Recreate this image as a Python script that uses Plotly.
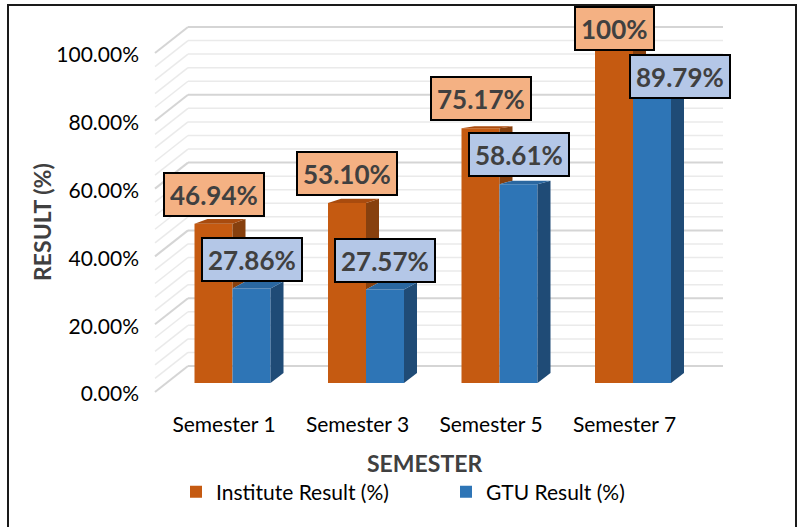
import plotly.graph_objects as go

# ---------------- data ----------------
categories = ["Semester 1", "Semester 3", "Semester 5", "Semester 7"]
institute_result = [46.94, 53.10, 75.17, 100.0]
gtu_result = [27.86, 27.57, 58.61, 89.79]
institute_labels = ["46.94%", "53.10%", "75.17%", "100%"]
gtu_labels = ["27.86%", "27.57%", "58.61%", "89.79%"]
y_tick_values = [0, 20, 40, 60, 80, 100]
y_tick_labels = ["0.00%", "20.00%", "40.00%", "60.00%", "80.00%", "100.00%"]
series_names = ["Institute Result (%)", "GTU Result (%)"]

# ---------------- styling / geometry ----------------
FONT = "Lato"
ORANGE, ORANGE_TOP, ORANGE_SIDE = "#C55A11", "#A94B0E", "#87400E"
BLUE, BLUE_TOP, BLUE_SIDE = "#2E75B6", "#2A67A0", "#1F4B76"
ORANGE_LABEL, BLUE_LABEL = "#F4B183", "#B4C7E7"
TEXT_DARK = "#404040"

FIG_W, FIG_H = 800, 527
M_L, M_R, M_T, M_B = 140, 40, 0, 117
PLOT_W = FIG_W - M_L - M_R
PLOT_H = FIG_H - M_T - M_B

CAT_PX = 133.5     # pixel spacing of categories
CAT0_PX = 232.5    # pixel x of first category centre
PCT_PX = 3.39      # pixels per percentage point
BASE_PX = 383      # pixel y of 0 % (front plane)


def px_x(p):
    return (p - CAT0_PX) / CAT_PX


def len_x(p):
    return p / CAT_PX


def len_y(p):
    return p / PCT_PX


def paper_x(p):
    return (p - M_L) / PLOT_W


def paper_y(p):
    return (M_T + PLOT_H - p) / PLOT_H


x_range = [px_x(M_L), px_x(M_L + PLOT_W)]
y_range = [(BASE_PX - (M_T + PLOT_H)) / PCT_PX, (BASE_PX - M_T) / PCT_PX]

BAR_W = len_x(38)
DEPTH_X = len_x(13)
BOTTOM_RISE = len_y(10)
PERSP = 0.032


def back(v):
    return v * (1 - PERSP) + BOTTOM_RISE


def poly(pts):
    return "M " + " L ".join(f"{x:.5f},{y:.5f}" for x, y in pts) + " Z"


positions = list(range(len(categories)))
inst_x = [p - BAR_W / 2 for p in positions]
gtu_x = [p + BAR_W / 2 for p in positions]

fig = go.Figure()
fig.add_trace(go.Bar(x=inst_x, y=institute_result, width=BAR_W, name=series_names[0],
                     marker=dict(color=ORANGE, line=dict(width=0)), hoverinfo="skip"))
fig.add_trace(go.Bar(x=gtu_x, y=gtu_result, width=BAR_W, name=series_names[1],
                     marker=dict(color=BLUE, line=dict(width=0)), hoverinfo="skip"))

shapes = []

# back wall + side wall gridlines
WALL_SHIFT = len_y(17)
SIDE_DROP = len_y(26)
wall_left, wall_right, side_left = px_x(188), px_x(723), px_x(155)
for g in range(0, 101, 4):
    major = g % 20 == 0
    col = "#D5D5D5" if major else "#EAEAEA"
    w = 2 if major else 1.5
    yb = g + WALL_SHIFT
    shapes.append(dict(type="line", xref="x", yref="y", x0=wall_left, x1=wall_right,
                       y0=yb, y1=yb, line=dict(color=col, width=w), layer="below"))
    shapes.append(dict(type="line", xref="x", yref="y", x0=side_left, x1=wall_left,
                       y0=yb - SIDE_DROP, y1=yb, line=dict(color=col, width=w), layer="below"))

# 3-D faces of the columns
for i in positions:
    o, b = institute_result[i], gtu_result[i]
    ol, orr = inst_x[i] - BAR_W / 2, inst_x[i] + BAR_W / 2
    bl, br = gtu_x[i] - BAR_W / 2, gtu_x[i] + BAR_W / 2
    sb = max(0, min(o, b))
    faces = [
        ([(orr, o), (orr + DEPTH_X, back(o)), (orr + DEPTH_X, back(sb)), (orr, sb)], ORANGE_SIDE),
        ([(ol, o), (orr, o), (orr + DEPTH_X, back(o)), (ol + DEPTH_X, back(o))], ORANGE_TOP),
        ([(br, b), (br + DEPTH_X, back(b)), (br + DEPTH_X, back(0)), (br, 0)], BLUE_SIDE),
        ([(bl, b), (br, b), (br + DEPTH_X, back(b)), (bl + DEPTH_X, back(b))], BLUE_TOP),
    ]
    for pts, col in faces:
        shapes.append(dict(type="path", xref="x", yref="y", path=poly(pts),
                           fillcolor=col, line=dict(width=0), layer="above"))

# outer frame
shapes.append(dict(type="rect", xref="paper", yref="paper",
                   x0=paper_x(8), x1=paper_x(796), y0=paper_y(540), y1=paper_y(5),
                   line=dict(color="#1A1A1A", width=2), fillcolor="rgba(0,0,0,0)"))

annotations = []
LABEL_SHIFT = 29.5
label_overrides = {("gtu", 3): (28, 2), ("inst", 3): (0, 16)}
for key, xs, vals, texts, bg in [("inst", inst_x, institute_result, institute_labels, ORANGE_LABEL),
                                 ("gtu", gtu_x, gtu_result, gtu_labels, BLUE_LABEL)]:
    for i in positions:
        dx, dy = label_overrides.get((key, i), (0, LABEL_SHIFT))
        annotations.append(dict(
            x=xs[i], y=vals[i], xref="x", yref="y", text=f"<b>{texts[i]}</b>",
            showarrow=False, xshift=dx, yshift=dy, bgcolor=bg, bordercolor="#000000",
            borderwidth=2, borderpad=5, height=31,
            font=dict(family=FONT, size=26, color=TEXT_DARK)))

annotations.append(dict(text="<b>SEMESTER</b>", xref="paper", yref="paper",
                        x=paper_x(424), y=paper_y(463), xanchor="center", yanchor="middle",
                        showarrow=False, font=dict(family=FONT, size=23, color=TEXT_DARK)))
annotations.append(dict(text="<b>RESULT (%)</b>", xref="paper", yref="paper",
                        x=paper_x(42), y=paper_y(222), xanchor="center", yanchor="middle",
                        textangle=-90, showarrow=False,
                        font=dict(family=FONT, size=23, color=TEXT_DARK)))

fig.update_layout(
    width=FIG_W, height=FIG_H,
    margin=dict(l=M_L, r=M_R, t=M_T, b=M_B),
    paper_bgcolor="white", plot_bgcolor="white",
    barmode="overlay",
    shapes=shapes, annotations=annotations,
    xaxis=dict(range=x_range, tickvals=[p - len_x(8.5) for p in positions], ticktext=categories,
               showgrid=False, zeroline=False, showline=False, ticks="",
               tickfont=dict(family=FONT, size=21, color="#000000"), fixedrange=True),
    yaxis=dict(range=y_range, tickvals=[g - len_y(11) for g in y_tick_values], ticktext=y_tick_labels,
               showgrid=False, zeroline=False, showline=False, ticks="",
               tickfont=dict(family=FONT, size=21, color="#000000"), fixedrange=True),
    legend=dict(orientation="h", x=paper_x(176), y=paper_y(492), xanchor="left", yanchor="middle",
                font=dict(family=FONT, size=21, color="#000000"), entrywidth=225,
                bgcolor="rgba(0,0,0,0)"),
    showlegend=True,
)

fig.write_html("out.html", post_script="document.body.style.margin='0';",
               config={"displayModeBar": False})
